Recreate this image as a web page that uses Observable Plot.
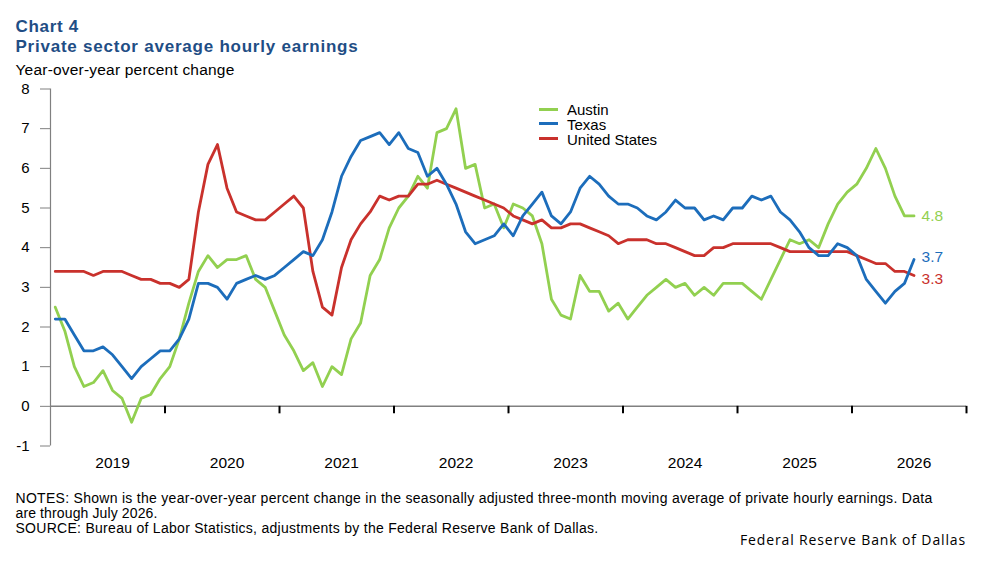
<!DOCTYPE html>
<html>
<head>
<meta charset="utf-8">
<script src="https://cdn.jsdelivr.net/npm/d3@7"></script>
<script src="https://cdn.jsdelivr.net/npm/@observablehq/plot@0.6"></script>
<style>
  body { margin: 0; background: #fff; }
  #wrap { position: relative; width: 997px; height: 565px; font-family: "Liberation Sans", Arial, sans-serif; color: #000; overflow: hidden; }
  .t { position: absolute; line-height: 1; white-space: nowrap; }
  .title { color: #1f4e85; font-weight: bold; font-size: 17px; left: 15.5px; }
  .sub { font-size: 15.5px; left: 15.5px; }
  .note { font-size: 14px; left: 15.5px; }
  .leg { font-size: 15px; left: 567px; }
  .sw { position: absolute; left: 539px; width: 19px; height: 3px; }
  #chart { position: absolute; left: 0; top: 80px; }
</style>
</head>
<body>
<div id="wrap">
  <div class="t title" id="t1" style="top:17.6px">Chart 4</div>
  <div class="t title" id="t2" style="top:37.6px">Private sector average hourly earnings</div>
  <div class="t sub" id="t3" style="top:61.6px">Year-over-year percent change</div>
  <div id="chart"></div>
  <div class="sw" style="top:107.8px;background:#92d050"></div>
  <div class="t leg" style="top:101.6px">Austin</div>
  <div class="sw" style="top:121.8px;background:#1c6dbb"></div>
  <div class="t leg" style="top:116.6px">Texas</div>
  <div class="sw" style="top:136.8px;background:#c9312c"></div>
  <div class="t leg" style="top:131.6px">United States</div>
  <div class="t note" id="n1" style="top:491.4px">NOTES: Shown is the year-over-year percent change in the seasonally adjusted three-month moving average of private hourly earnings. Data</div>
  <div class="t note" id="n2" style="top:506.4px">are through July 2026.</div>
  <div class="t note" id="n3" style="top:521.4px">SOURCE: Bureau of Labor Statistics, adjustments by the Federal Reserve Bank of Dallas.</div>
  <div class="t note" id="n4" style="top:532.5px;left:auto;right:31px;font-family:'Open Sans',sans-serif;">Federal Reserve Bank of Dallas</div>
</div>
<script>
// Monthly data, January 2019 through July 2026
const years = ["2019", "2020", "2021", "2022", "2023", "2024", "2025", "2026"];
const yTicks = [-1, 0, 1, 2, 3, 4, 5, 6, 7, 8];
const seriesNames = ["Austin", "Texas", "United States"];
const seriesColors = ["#92d050", "#1c6dbb", "#c9312c"];

const austin = [
  2.5, 1.9, 1.0, 0.5, 0.6, 0.9, 0.4, 0.2, -0.4, 0.2, 0.3, 0.7,
  1.0, 1.7, 2.6, 3.4, 3.8, 3.5, 3.7, 3.7, 3.8, 3.2, 3.0, 2.4,
  1.8, 1.4, 0.9, 1.1, 0.5, 1.0, 0.8, 1.7, 2.1, 3.3, 3.7, 4.5,
  5.0, 5.3, 5.8, 5.5, 6.9, 7.0, 7.5, 6.0, 6.1, 5.0, 5.1, 4.5,
  5.1, 5.0, 4.8, 4.1, 2.7, 2.3, 2.2, 3.3, 2.9, 2.9, 2.4, 2.6,
  2.2, 2.5, 2.8, 3.0, 3.2, 3.0, 3.1, 2.8, 3.0, 2.8, 3.1, 3.1,
  3.1, 2.9, 2.7, 3.2, 3.7, 4.2, 4.1, 4.2, 4.0, 4.6, 5.1, 5.4,
  5.6, 6.0, 6.5, 6.0, 5.3, 4.8, 4.8
];
const texas = [
  2.2, 2.2, 1.8, 1.4, 1.4, 1.5, 1.3, 1.0, 0.7, 1.0, 1.2, 1.4,
  1.4, 1.7, 2.2, 3.1, 3.1, 3.0, 2.7, 3.1, 3.2, 3.3, 3.2, 3.3,
  3.5, 3.7, 3.9, 3.8, 4.2, 4.9, 5.8, 6.3, 6.7, 6.8, 6.9, 6.6,
  6.9, 6.5, 6.4, 5.8, 6.0, 5.6, 5.1, 4.4, 4.1, 4.2, 4.3, 4.6,
  4.3, 4.8, 5.1, 5.4, 4.8, 4.6, 4.9, 5.5, 5.8, 5.6, 5.3, 5.1,
  5.1, 5.0, 4.8, 4.7, 4.9, 5.2, 5.0, 5.0, 4.7, 4.8, 4.7, 5.0,
  5.0, 5.3, 5.2, 5.3, 4.9, 4.7, 4.4, 4.0, 3.8, 3.8, 4.1, 4.0,
  3.8, 3.2, 2.9, 2.6, 2.9, 3.1, 3.7
];
const us = [
  3.4, 3.4, 3.4, 3.4, 3.3, 3.4, 3.4, 3.4, 3.3, 3.2, 3.2, 3.1,
  3.1, 3.0, 3.2, 4.9, 6.1, 6.6, 5.5, 4.9, 4.8, 4.7, 4.7, 4.9,
  5.1, 5.3, 5.0, 3.4, 2.5, 2.3, 3.5, 4.2, 4.6, 4.9, 5.3, 5.2,
  5.3, 5.3, 5.6, 5.6, 5.7, 5.6, 5.5, 5.4, 5.3, 5.2, 5.1, 5.0,
  4.8, 4.7, 4.6, 4.7, 4.5, 4.5, 4.6, 4.6, 4.5, 4.4, 4.3, 4.1,
  4.2, 4.2, 4.2, 4.1, 4.1, 4.0, 3.9, 3.8, 3.8, 4.0, 4.0, 4.1,
  4.1, 4.1, 4.1, 4.1, 4.0, 3.9, 3.9, 3.9, 3.9, 3.9, 3.9, 3.9,
  3.8, 3.7, 3.6, 3.6, 3.4, 3.4, 3.3
];

const valuesBySeries = [austin, texas, us];
const rows = [];
// drawing order: Austin, United States, Texas (Texas on top)
[0, 2, 1].forEach(s => {
  valuesBySeries[s].forEach((v, i) => rows.push({series: seriesNames[s], t: i + 0.5, v}));
});
const lastRow = s => {
  const vals = valuesBySeries[s];
  return [{series: seriesNames[s], t: vals.length - 0.5, v: vals[vals.length - 1]}];
};

const H = 400, mTop = 8.5, mBottom = 34.5;
const pxPerUnit = (H - mTop - mBottom) / 9;
const tickLen = 7.5 / pxPerUnit;
const yearTicks = years.map((d, i) => (i + 1) * 12);

const chart = Plot.plot({
  width: 997,
  height: H,
  marginLeft: 50,
  marginRight: 31,
  marginTop: mTop,
  marginBottom: mBottom,
  style: {fontFamily: "'Liberation Sans', Arial, sans-serif", background: "transparent"},
  x: {domain: [0, 96], axis: null},
  y: {domain: [-1, 8], axis: null},
  color: {domain: seriesNames, range: seriesColors},
  marks: [
    Plot.axisY({ticks: yTicks, tickSize: 10, tickPadding: 11, stroke: "#808080", fill: "#000", fontSize: 15, label: null, tickFormat: d => d}),
    Plot.ruleX([0], {stroke: "#808080", strokeWidth: 1.2}),
    Plot.ruleY([0], {stroke: "#808080", strokeWidth: 1.5}),
    Plot.ruleX(yearTicks, {x: d => d, y1: 0, y2: -tickLen, stroke: "#000", strokeWidth: 2}),
    Plot.text(years, {x: (d, i) => i * 12 + 6.5, text: d => d, frameAnchor: "bottom", dy: 22, fontSize: 15.5, fill: "#000"}),
    Plot.line(rows, {x: "t", y: "v", z: "series", stroke: "series", strokeWidth: 2.8, strokeLinejoin: "round"}),
    Plot.text(lastRow(0), {x: "t", y: "v", text: d => d.v.toFixed(1), fill: seriesColors[0], dx: 7.5, dy: 0, textAnchor: "start", fontSize: 15.5}),
    Plot.text(lastRow(1), {x: "t", y: "v", text: d => d.v.toFixed(1), fill: seriesColors[1], dx: 7.5, dy: -3, textAnchor: "start", fontSize: 15.5}),
    Plot.text(lastRow(2), {x: "t", y: "v", text: d => d.v.toFixed(1), fill: seriesColors[2], dx: 7.5, dy: 3.5, textAnchor: "start", fontSize: 15.5})
  ]
});
document.getElementById("chart").appendChild(chart);

// fit text widths to the reference layout via letter spacing
function fit(id, target) {
  const el = document.getElementById(id);
  const w = el.getBoundingClientRect().width;
  const n = el.textContent.length;
  el.style.letterSpacing = ((target - w) / n) + "px";
}
fit("t1", 63.5);
fit("t2", 343);
fit("t3", 219);
fit("n1", 917);
fit("n2", 142);
fit("n3", 583);
fit("n4", 226);
</script>
</body>
</html>
